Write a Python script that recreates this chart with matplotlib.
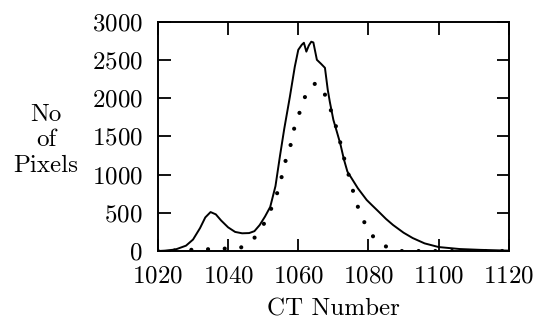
import matplotlib.pyplot as plt

# histogram of CT numbers (solid line)
ct = [1020, 1022, 1025, 1028, 1030, 1032, 1033.5, 1035, 1036.5, 1038, 1040, 1042,
      1044, 1046, 1047.5, 1049, 1050.5, 1052, 1053.5, 1054.8, 1056, 1057.6, 1059,
      1060, 1061, 1061.6, 1062.3, 1063, 1063.7, 1064.3, 1065.3, 1066.5, 1067.6,
      1068.4, 1069, 1070, 1071, 1072, 1073, 1074, 1075.5, 1077, 1079.5, 1081, 1083,
      1085, 1087, 1090, 1092.6, 1096, 1100, 1106, 1112, 1120]
pixels = [0, 5, 20, 70, 150, 300, 440, 510, 480, 400, 310, 250,
          232, 235, 260, 340, 450, 577, 850, 1250, 1600, 2018, 2411,
          2634, 2700, 2726, 2610, 2690, 2740, 2730, 2503, 2450, 2398,
          2110, 1950, 1717, 1560, 1400, 1200, 1040, 930, 820, 668, 600, 511,
          420, 341, 240, 170, 100, 52, 26, 15, 5]

# fitted distribution (dotted line)
fit_ct = [1020, 1043.4, 1046.8, 1049, 1051, 1052.5, 1053.9, 1055, 1055.6, 1056.8, 1058,
          1058.7, 1060, 1061, 1062.5, 1065, 1067.3, 1068.7, 1070, 1071, 1072, 1073.8,
          1075, 1075.8, 1077, 1078.4, 1080, 1082.7, 1085.8, 1089.5, 1120]
fit_pixels = [0, 39, 131, 262, 419, 577, 747, 904, 1062, 1245, 1415,
              1586, 1756, 1913, 2084, 2202, 2084, 1913, 1756, 1586, 1415, 1075,
              904, 747, 577, 419, 262, 118, 39, 0, 0]

plt.rcParams['font.family'] = ['cmr10', 'DejaVu Serif']
plt.rcParams['axes.formatter.use_mathtext'] = True

fig = plt.figure(figsize=(5.39, 3.26), dpi=100)
ax = fig.add_axes([0.293, 0.230, 0.651, 0.703])

ax.plot(ct, pixels, color='black', linewidth=1.4)
ax.plot(fit_ct, fit_pixels, color='black', linewidth=3.0,
        dashes=(0.01, 4.0), dash_capstyle='round')

ax.set_xlim(1020, 1120)
ax.set_ylim(0, 3000)
ax.set_xticks(range(1020, 1121, 20))
ax.set_yticks(range(0, 3001, 500))
ax.tick_params(direction='in', length=9, width=1.3, top=True, right=True,
               labelsize=18)
ax.tick_params(axis='y', pad=11)
ax.tick_params(axis='x', pad=10)
for s in ax.spines.values():
    s.set_linewidth(1.4)

ax.set_xlabel('CT Number', fontsize=18, labelpad=8)
fig.text(0.085, 0.57, 'No\nof\nPixels', ha='center', va='center',
         fontsize=18, linespacing=1.2)

fig.savefig('out.png', dpi=100)
